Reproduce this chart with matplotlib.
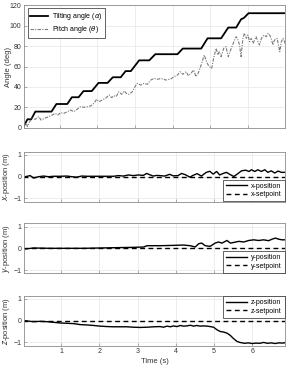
import matplotlib
matplotlib.use("Agg")
import matplotlib.pyplot as plt

plt.rcParams['font.family'] = ['Liberation Sans', 'DejaVu Sans']
plt.rcParams['mathtext.fontset'] = 'dejavusans'

# ---- Data ----
alpha_t = [0.02, 0.14, 0.24, 0.35, 0.78, 0.91, 1.20, 1.32, 1.50, 1.63, 1.85, 2.03,
           2.27, 2.41, 2.62, 2.75, 2.89, 3.11, 3.38, 3.54, 4.13, 4.27, 4.76, 4.93,
           5.29, 5.48, 5.69, 5.82, 5.90, 6.02, 7.03]
alpha_v = [0, 8.5, 8.5, 16, 16, 23.4, 23.4, 30, 30, 36, 36, 44,
           44, 49.5, 49.5, 55.5, 55.5, 66, 66, 72, 72, 77.5, 77.5, 87.5,
           87.5, 98, 98, 106, 107.5, 112, 112]

theta_t = [0.0, 0.06, 0.11, 0.14, 0.20, 0.26, 0.35, 0.44, 0.50, 0.59, 0.71, 0.80, 0.88,
           0.95, 1.02, 1.11, 1.20, 1.28, 1.37, 1.46, 1.55, 1.64, 1.73, 1.82, 1.91, 1.98,
           2.04, 2.13, 2.22, 2.31, 2.38, 2.44, 2.50, 2.57, 2.65, 2.71, 2.77, 2.84, 2.93,
           3.00, 3.06, 3.15, 3.24, 3.33, 3.42, 3.51, 3.60, 3.69, 3.82, 3.95, 4.04, 4.13,
           4.20, 4.27, 4.36, 4.42, 4.49, 4.56, 4.62, 4.68, 4.76, 4.84, 4.92, 4.98, 5.04,
           5.09, 5.16, 5.20, 5.24, 5.29, 5.36, 5.42, 5.48, 5.56, 5.63, 5.69, 5.74, 5.78,
           5.82, 5.87, 5.91, 5.96, 6.00, 6.05, 6.09, 6.14, 6.18, 6.22, 6.27, 6.31, 6.36,
           6.43, 6.49, 6.54, 6.58, 6.62, 6.67, 6.71, 6.78, 6.85, 6.89, 6.94, 7.0]
theta_v = [0, 2.9, 4.6, 1.3, 6.2, 9.4, 8.5, 11.1, 7.8, 9.4, 11.1, 12.7, 14.3,
           12.7, 15.0, 14.3, 15.9, 17.6, 15.9, 18.2, 20.8, 20.2, 20.8, 21.5, 24.1, 28.0,
           25.7, 27.3, 29.0, 32.2, 29.6, 31.5, 30.6, 35.4, 32.8, 36.1, 33.8, 32.8, 35.4,
           40.3, 43.6, 41.9, 43.6, 42.6, 46.8, 48.4, 47.5, 48.4, 46.8, 47.8, 50.1, 51.7,
           54.9, 52.4, 54.9, 51.0, 53.4, 56.6, 50.1, 53.4, 61.5, 71.2, 63.1, 59.8, 58.2,
           68.0, 77.8, 71.2, 74.4, 69.6, 77.8, 79.3, 69.6, 77.8, 84.2, 89.1, 85.9, 81.0,
           69.6, 87.5, 92.4, 87.5, 90.7, 84.2, 87.5, 82.6, 85.9, 89.1, 84.2, 81.0, 87.5,
           90.7, 89.1, 92.4, 90.7, 87.5, 81.0, 85.9, 87.5, 74.4, 84.2, 87.5, 82.0]

xpos_t = [0.06, 0.19, 0.28, 0.41, 0.54, 0.67, 0.80, 0.98, 1.15, 1.28, 1.41, 1.54, 1.67,
          1.85, 2.02, 2.19, 2.37, 2.50, 2.63, 2.76, 2.89, 3.02, 3.15, 3.24, 3.32, 3.41,
          3.50, 3.58, 3.71, 3.84, 3.93, 4.06, 4.15, 4.24, 4.37, 4.45, 4.56, 4.67, 4.80,
          4.89, 4.98, 5.07, 5.15, 5.24, 5.33, 5.41, 5.52, 5.61, 5.72, 5.83, 5.92, 5.98,
          6.07, 6.15, 6.24, 6.33, 6.41, 6.50, 6.59, 6.68, 6.76, 6.87]
xpos_v = [0.0, 0.05, -0.06, 0.0, 0.03, 0.0, 0.02, 0.02, 0.03, 0.0, -0.02, 0.03, 0.02,
          0.02, 0.02, 0.02, 0.02, 0.05, 0.03, 0.08, 0.05, 0.08, 0.06, 0.15, 0.09, 0.03,
          0.06, 0.05, 0.03, 0.11, 0.04, 0.05, 0.15, 0.10, -0.02, 0.06, 0.14, 0.03, 0.20,
          0.25, 0.12, 0.24, 0.08, 0.15, 0.20, 0.11, 0.01, 0.12, 0.27, 0.30, 0.24, 0.32,
          0.24, 0.32, 0.24, 0.32, 0.20, 0.27, 0.17, 0.26, 0.20, 0.20]

ypos_t = [0.06, 0.28, 0.71, 1.15, 1.59, 2.02, 2.46, 2.90, 3.16, 3.25, 3.59, 3.94, 4.20,
          4.38, 4.51, 4.60, 4.68, 4.77, 4.90, 5.03, 5.12, 5.21, 5.34, 5.43, 5.52, 5.65,
          5.78, 5.91, 6.04, 6.17, 6.30, 6.43, 6.52, 6.61, 6.69, 6.78, 6.87]
ypos_v = [-0.03, 0.015, 0.0, 0.0, 0.0, 0.015, 0.03, 0.045, 0.06, 0.12, 0.12, 0.135, 0.15,
          0.12, 0.06, 0.21, 0.24, 0.12, 0.09, 0.24, 0.29, 0.24, 0.36, 0.24, 0.27, 0.32,
          0.29, 0.36, 0.39, 0.36, 0.39, 0.35, 0.42, 0.47, 0.42, 0.39, 0.39]

zpos_t = [0.06, 0.19, 0.28, 0.45, 0.63, 0.80, 0.98, 1.15, 1.33, 1.50, 1.67, 1.85, 2.02,
          2.20, 2.37, 2.55, 2.72, 2.90, 3.07, 3.24, 3.42, 3.59, 3.68, 3.77, 3.86, 3.94,
          4.03, 4.12, 4.20, 4.29, 4.38, 4.47, 4.55, 4.64, 4.73, 4.82, 4.90, 4.99, 5.08,
          5.17, 5.25, 5.34, 5.43, 5.51, 5.60, 5.68, 5.80, 5.90, 6.00, 6.10, 6.20, 6.30,
          6.40, 6.50, 6.60, 6.70, 6.80, 6.87]
zpos_v = [0.0, -0.03, -0.045, -0.03, -0.045, -0.075, -0.105, -0.12, -0.135, -0.18, -0.195,
          -0.22, -0.25, -0.27, -0.28, -0.28, -0.28, -0.30, -0.31, -0.30, -0.28, -0.27, -0.30,
          -0.25, -0.28, -0.24, -0.27, -0.22, -0.25, -0.24, -0.21, -0.25, -0.22, -0.25, -0.24,
          -0.25, -0.27, -0.30, -0.42, -0.50, -0.52, -0.57, -0.68, -0.82, -0.95, -1.00, -1.04,
          -1.02, -1.05, -1.03, -1.04, -1.00, -1.04, -1.02, -1.05, -1.02, -1.03, -1.01]

setpoint_t = [0.0, 7.0]
setpoint_v = [0.0, 0.0]

xticks = [1, 2, 3, 4, 5, 6]
angle_ticks = [0, 20, 40, 60, 80, 100, 120]
pos_ticks = [-1, 0, 1]

# ---- Figure ----
fig = plt.figure(figsize=(2.97, 3.71), dpi=100)
L, W = 0.081, 0.880
ax1 = fig.add_axes([L, 0.655, W, 0.3315])
ax2 = fig.add_axes([L, 0.4563, W, 0.1348])
ax3 = fig.add_axes([L, 0.2633, W, 0.1348])
ax4 = fig.add_axes([L, 0.0682, W, 0.1348])

spine_c = '#8c8c8c'
text_c = '#333333'
fs = 5

def style(ax):
    for s in ax.spines.values():
        s.set_color(spine_c)
        s.set_linewidth(0.6)
    ax.tick_params(direction='in', length=2, width=0.5, colors=spine_c,
                   labelcolor=text_c, labelsize=fs, pad=2)
    ax.grid(True, color='#e6e6e6', linewidth=0.5)
    ax.set_axisbelow(True)
    ax.set_xticks(xticks)

# Top: angles
ax1.plot(alpha_t, alpha_v, color='black', lw=1.3, label=r'Tilting angle ($\alpha$)')
ax1.plot(theta_t, theta_v, color='#7a7a7a', lw=0.8, linestyle=(0, (3, 1.2, 1, 1.2)),
         label=r'Pitch angle ($\theta$)')
style(ax1)
ax1.set_xlim(0.05, 7.0)
ax1.set_ylim(0, 120)
ax1.set_yticks(angle_ticks)
ax1.set_xticklabels([])
ax1.set_ylabel('Angle (deg)', fontsize=5.5, color=text_c)
ax1.yaxis.set_label_coords(-0.047, 0.5)
leg = ax1.legend(loc='upper left', fontsize=fs, frameon=True, fancybox=False,
                 edgecolor='#262626', framealpha=1, handlelength=2.6,
                 borderpad=0.4, labelspacing=0.25, handletextpad=0.5,
                 borderaxespad=0.5)
leg.get_frame().set_linewidth(0.5)

pos_axes = [(ax2, xpos_t, xpos_v, 'x', 'lower right'),
            (ax3, ypos_t, ypos_v, 'y', 'lower right'),
            (ax4, zpos_t, zpos_v, 'z', 'upper right')]
for ax, t, v, name, loc in pos_axes:
    ax.plot(t, v, color='black', lw=1.0, label=f'{name}-position')
    ax.plot(setpoint_t, setpoint_v, color='black', lw=1.0, linestyle=(0, (3.5, 2.5)),
            label=f'{name}-setpoint')
    style(ax)
    ax.set_xlim(0.03, 6.87)
    ax.set_ylim(-1.15, 1.15)
    ax.set_yticks(pos_ticks)
    ax.set_ylabel(f'${name}$-position (m)', fontsize=5.5, color=text_c)
    ax.yaxis.set_label_coords(-0.045, 0.5)
    lg = ax.legend(loc=loc, fontsize=fs, frameon=True, fancybox=False,
                   edgecolor='#262626', framealpha=1, handlelength=3.0,
                   borderpad=0.4, labelspacing=0.25, handletextpad=0.6,
                   borderaxespad=0.1)
    lg.get_frame().set_linewidth(0.5)

ax2.set_xticklabels([])
ax3.set_xticklabels([])
ax4.set_xlabel('Time (s)', fontsize=5.5, color=text_c, labelpad=1.5)

fig.savefig('out.png', dpi=100)
